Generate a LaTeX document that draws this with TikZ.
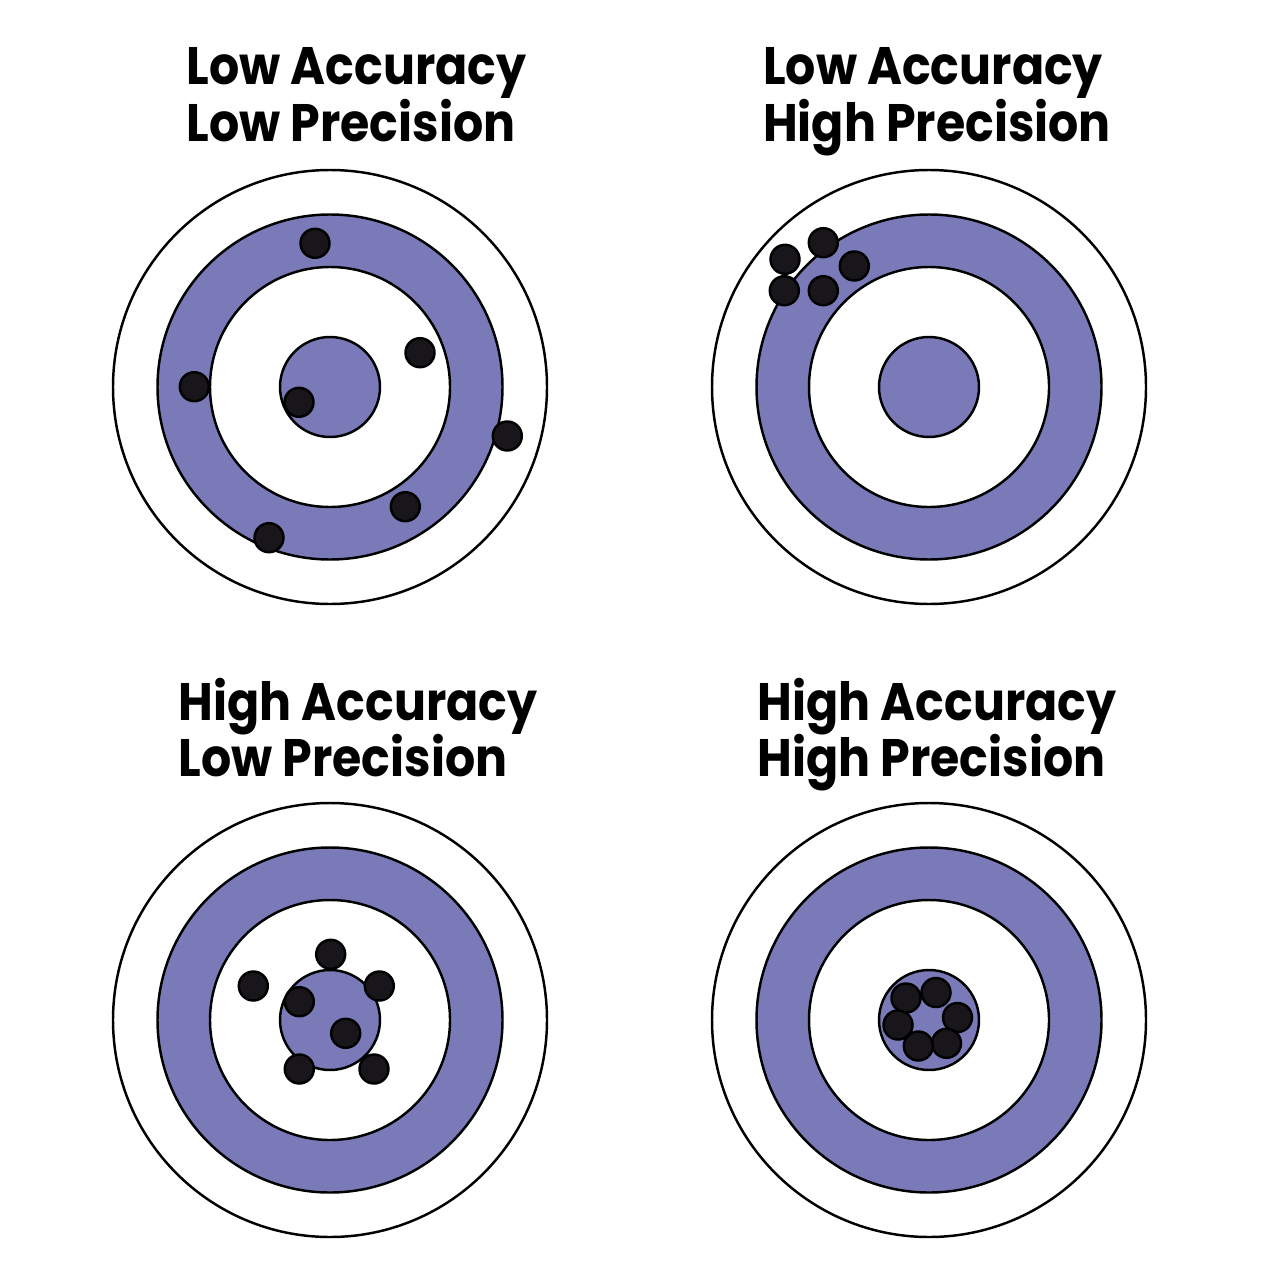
\documentclass[tikz,border=0pt]{standalone}
\usepackage{fontspec}
\setmainfont{Poppins}[FakeStretch=0.9]
\definecolor{ringblue}{RGB}{122,122,185}
\definecolor{shotblack}{RGB}{24,22,26}
\tikzset{
  ring/.style={draw=black,line width=0.7pt},
  shot/.style={draw=black,fill=shotblack,line width=0.7pt},
  heading/.style={anchor=base west,inner sep=0pt,font=\fontsize{15}{18}\selectfont\bfseries}
}
\begin{document}
\begin{tikzpicture}[x=0.01cm,y=-0.01cm]
  \useasboundingbox (0,0) rectangle (1275,1276);
  \begin{scope}[shift={(330,387)}]
    \foreach \r/\c in {217/white,172.5/ringblue,120/white,50/ringblue}{\draw[ring,fill=\c] (0,0) circle (\r);}
    \foreach \x/\y in {-15/-143.7,90/-34.3,-135.7/-0.3,-31/15.3,177.3/49,75.3/119.7,-61/150.7}{\draw[shot] (\x,\y) circle (14.5);}
  \end{scope}
  \begin{scope}[shift={(929,387)}]
    \foreach \r/\c in {217/white,172.5/ringblue,120/white,50/ringblue}{\draw[ring,fill=\c] (0,0) circle (\r);}
    \foreach \x/\y in {-144/-127.7,-105.7/-144.3,-74.7/-121,-144.7/-96.3,-105.7/-96.3}{\draw[shot] (\x,\y) circle (14.5);}
  \end{scope}
  \begin{scope}[shift={(330,1020)}]
    \foreach \r/\c in {217/white,172.5/ringblue,120/white,50/ringblue}{\draw[ring,fill=\c] (0,0) circle (\r);}
    \foreach \x/\y in {0.7/-65.7,-76.7/-34,49.3/-34,-30.7/-18.3,15.7/13.3,-30.7/49,44/49}{\draw[shot] (\x,\y) circle (14.5);}
  \end{scope}
  \begin{scope}[shift={(929,1020)}]
    \foreach \r/\c in {217/white,172.5/ringblue,120/white,50/ringblue}{\draw[ring,fill=\c] (0,0) circle (\r);}
    \foreach \x/\y in {-23/-22,7/-27.5,28.5/-2.5,17.5/23.3,-10.7/26,-31/5}{\draw[shot] (\x,\y) circle (14.5);}
  \end{scope}
  \node[heading] (tlacc) at (186,85) {Low Accuracy};
  \node[heading] (tlpre) at (186,141.7) {Low Precision};
  \node[heading] (tracc) at (762.5,85) {Low Accuracy};
  \node[heading] (trpre) at (762.5,141.7) {High Precision};
  \node[heading] (blacc) at (178,720) {High Accuracy};
  \node[heading] (blpre) at (178,776.7) {Low Precision};
  \node[heading] (bracc) at (757,720) {High Accuracy};
  \node[heading] (brpre) at (757,776.7) {High Precision};
\end{tikzpicture}
\end{document}
